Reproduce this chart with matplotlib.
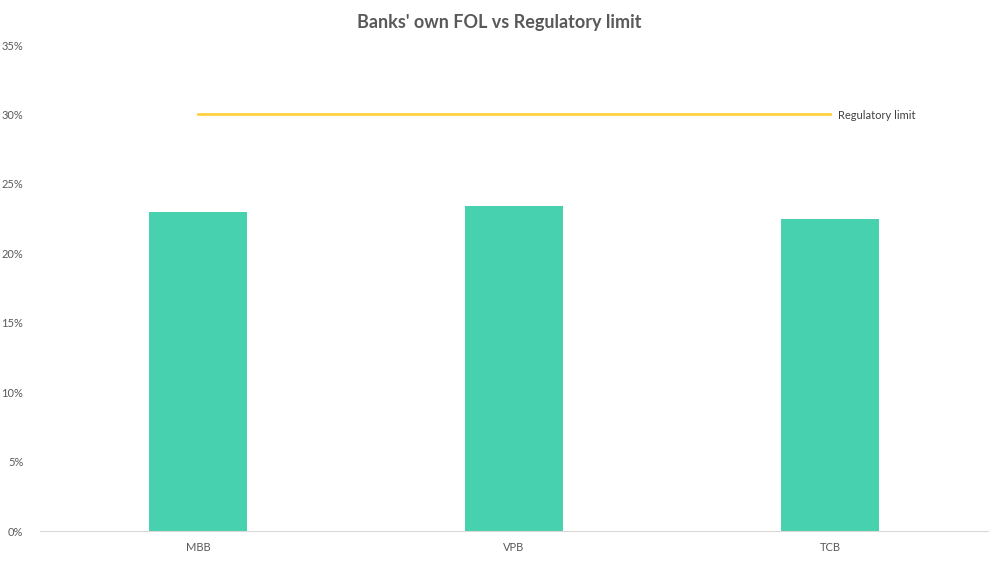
import matplotlib
matplotlib.use("Agg")
import matplotlib.pyplot as plt
from matplotlib.ticker import FuncFormatter

# data
banks = ["MBB", "VPB", "TCB"]
fol = [0.230, 0.234, 0.225]
limit = [0.30, 0.30, 0.30]

plt.rcParams['font.family'] = ['Lato', 'DejaVu Sans']

fig = plt.figure(figsize=(9.99, 5.62), dpi=100)
ax = fig.add_axes([40 / 999, 31 / 562, 948 / 999, 486 / 562])

x = range(len(banks))
ax.bar(x, fol, width=0.313, color="#48D1AE", zorder=2)
ax.plot(x, limit, color="#FFD03F", linewidth=2, zorder=3)
ax.text(len(banks) - 1 + 0.025, limit[-1] - 0.001, "Regulatory limit",
        va="center", ha="left", fontsize=8, color="#404040")

ax.set_xlim(-0.5, len(banks) - 0.5)
ax.set_ylim(0, 0.35)
ax.set_yticks([i * 0.05 for i in range(8)])
ax.yaxis.set_major_formatter(FuncFormatter(lambda v, p: f"{v * 100:.0f}%"))
ax.set_xticks(list(x))
ax.set_xticklabels(banks)

for s in ["top", "right", "left"]:
    ax.spines[s].set_visible(False)
ax.spines["bottom"].set_color("#D9D9D9")
ax.tick_params(axis="both", length=0, labelsize=8, colors="#595959")
ax.tick_params(axis="y", pad=12)
ax.tick_params(axis="x", pad=8)

fig.suptitle("Banks' own FOL vs Regulatory limit", y=0.975, fontsize=13,
             fontweight="bold", color="#595959")

fig.savefig("out.png", dpi=100)
